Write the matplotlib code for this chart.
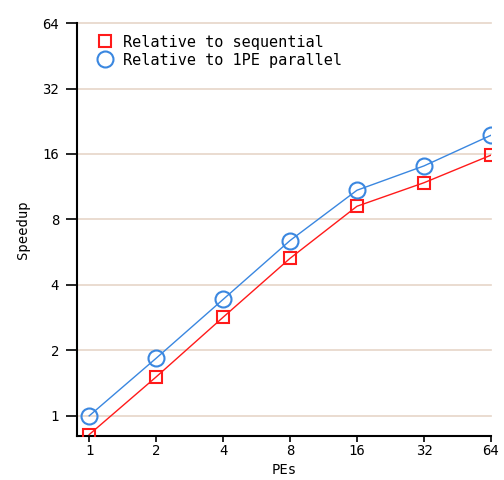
import matplotlib
matplotlib.use('Agg')

import matplotlib.pyplot as plt
from matplotlib.ticker import FixedLocator, FixedFormatter, NullLocator

pes = [1, 2, 4, 8, 16, 32, 64]
rel_seq = [0.82, 1.51, 2.84, 5.3, 9.2, 11.8, 15.8]
rel_par = [1.0, 1.84, 3.43, 6.4, 10.9, 14.1, 19.5]
ticks = [1, 2, 4, 8, 16, 32, 64]
tick_labels = ['1', '2', '4', '8', '16', '32', '64']

red = '#ff1a1a'
blue = '#3a87e0'
grid_col = '#e6d5c8'

plt.rcParams['font.family'] = ['DejaVu Sans Mono']

fig = plt.figure(figsize=(5.04, 4.8), dpi=100)
ax = fig.add_axes([0.153, 0.092, 0.821, 0.86])

ax.set_xscale('log', base=2)
ax.set_yscale('log', base=2)
ax.set_xlim(2 ** -0.18, 64)
ax.set_ylim(2 ** -0.305, 64)

for t in ticks:
    ax.axhline(t, color=grid_col, lw=1.2, zorder=0, clip_on=False)

ax.plot(pes, rel_seq, color=red, lw=1, marker='s', ms=9, mfc='none',
        mec=red, mew=1.5, label='Relative to sequential', zorder=3)
ax.plot(pes, rel_par, color=blue, lw=1, marker='o', ms=11.5, mfc='none',
        mec=blue, mew=1.5, label='Relative to 1PE parallel', zorder=3)

for axis in (ax.xaxis, ax.yaxis):
    axis.set_major_locator(FixedLocator(ticks))
    axis.set_major_formatter(FixedFormatter(tick_labels))
    axis.set_minor_locator(NullLocator())

ax.spines['top'].set_visible(False)
ax.spines['right'].set_visible(False)
ax.spines['left'].set_linewidth(1.5)
ax.spines['bottom'].set_linewidth(1.5)
ax.tick_params(axis='y', length=8, width=1.2, labelsize=10, pad=5)
ax.tick_params(axis='x', length=4, width=1.2, labelsize=10, pad=2)

ax.set_xlabel('PEs', fontsize=10)
ax.set_ylabel('Speedup', fontsize=10)
ax.xaxis.set_label_coords(0.5, -0.066)
ax.yaxis.set_label_coords(-0.115, 0.50)

ax.legend(loc='upper left', frameon=False, fontsize=11, handlelength=0.9,
          handletextpad=0.7, labelspacing=0.2, borderaxespad=0.3,
          bbox_to_anchor=(0.025, 0.998), numpoints=1)
leg = ax.get_legend()
for h in leg.legend_handles:
    h.set_linestyle('none')

fig.savefig('out.png', dpi=100)
